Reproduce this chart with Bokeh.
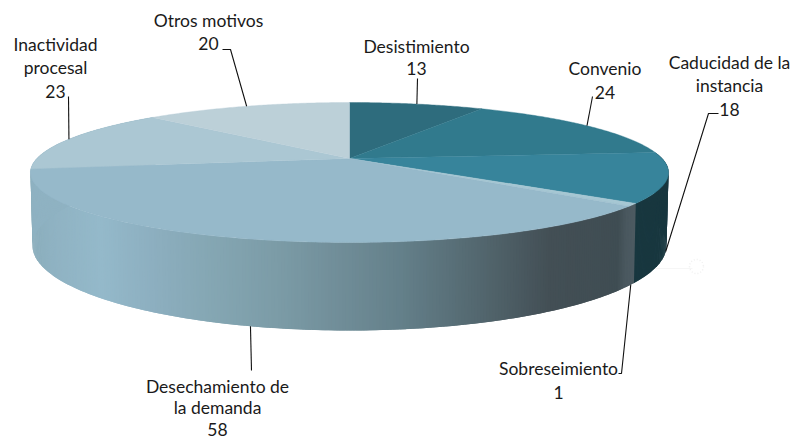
import numpy as np
from bokeh.plotting import figure
from bokeh.embed import file_html
from bokeh.resources import INLINE
from bokeh.core.properties import value

# ---- data ----
categories = ["Desistimiento", "Convenio", "Caducidad de la instancia", "Sobreseimiento",
              "Desechamiento de la demanda", "Inactividad procesal", "Otros motivos"]
values = [13, 24, 18, 1, 58, 23, 20]
label_lines = [["Desistimiento", "13"], ["Convenio", "24"], ["Caducidad de la", "instancia", "18"],
               ["Sobreseimiento", "1"], ["Desechamiento de", "la demanda", "58"],
               ["Inactividad", "procesal", "23"], ["Otros motivos", "20"]]

# ---- style & layout ----
top_colors = ["#2E6C7D", "#317A8D", "#37849B", "#A6C7D3", "#96B9CA", "#ABC7D3", "#BCD0D8"]
side_colors = ["#24525F", "#24525F", "#18373F", None, None, "#8FB2C2", "#8FB2C2"]
grad_x = [30, 50, 100, 150, 200, 280, 340, 400, 470, 550, 618, 626, 634]
grad_c = ["#8AADBB", "#8FB2C2", "#94B9CA", "#8DAFC0", "#86A8B5", "#7B9BA6", "#708D98",
          "#64808A", "#556A72", "#434F55", "#3F4D53", "#4A585F", "#4C5A61"]
label_xy = [(416, [46, 68]), (604.5, [68, 92]), (729, [62, 85, 109]), (558, [368, 392]),
            (217, [386, 407, 429]), (55, [44, 67, 91]), (208, [20, 43])]
# leader: elbow points (from the label end), and whether it lands on top or bottom rim
leaders = [([(417, 78)], "top"), ([(592, 96)], "top"), ([(718, 113), (708, 113)], "bot"),
           ([(618, 373), (621, 373)], "bot"), ([(251, 370)], "bot"),
           ([(68, 96)], "top"), ([(222, 49), (230, 49)], "top")]
CX, K = 349, -0.2
TOP = dict(cy=158.0, a=312.6, b=67.2)
BOT = dict(cy=228.0, a=310.6, b=81.6)
FONT, FS = "Lato", "17.5px"
STEP = 0.5


def rim(deg, g):
    t = np.radians(deg)
    u, v = np.sin(t), -np.cos(t)
    d = 1 + K * v
    return CX + g["a"] * u / d, g["cy"] + g["b"] * v / d


def hex2rgb(h):
    return [int(h[i:i + 2], 16) for i in (1, 3, 5)]


grad_rgb = np.array([hex2rgb(c) for c in grad_c], float)


def grad(x):
    return "#%02X%02X%02X" % tuple(int(round(np.interp(x, grad_x, grad_rgb[:, i]))) for i in range(3))


p = figure(width=792, height=440, x_range=(0, 792), y_range=(440, 0),
           output_backend="svg", toolbar_location=None, min_border=0,
           outline_line_color=None, x_axis_type=None, y_axis_type=None)
p.grid.visible = False

edges = np.cumsum([0] + values) / sum(values) * 360.0

# faint smudge right of the pie
p.line([648, 692], [268, 268], line_color="#F6F6F6", line_width=1)
p.scatter([696], [266], size=14, marker="circle", fill_color=None,
          line_color="#F0F0F0", line_dash="1 2", line_width=1.5)

# side wall: strips painted in angle order, each reaching under the next one
sx, sy, sc = [], [], []
for i in range(len(values)):
    a0, a1 = edges[i], edges[i + 1]
    if a0 < 84 or a0 > 262:
        continue
    n = max(2, int((a1 - a0) / STEP))
    ang = np.linspace(a0, a1, n + 1)
    for s, e in zip(ang[:-1], ang[1:]):
        e2 = e + STEP
        t0, t1 = np.array([s, e2]), np.array([e2, s])
        x0, y0 = rim(t0, TOP)
        x1, y1 = rim(t1, BOT)
        xm, _ = rim((s + e) / 2, TOP)
        col = side_colors[i] or grad(float(xm))
        sx.append(list(x0) + list(x1))
        sy.append(list(y0) + list(y1))
        sc.append(col)
p.patches(sx, sy, fill_color=sc, line_color=None)

# top face
xs, ys = [], []
for i in range(len(values)):
    ang = np.linspace(edges[i], edges[i + 1], max(3, int(edges[i + 1] - edges[i]) * 2))
    x, y = rim(ang, TOP)
    xs.append([CX] + list(x))
    ys.append([TOP["cy"]] + list(y))
p.patches(xs, ys, fill_color=top_colors, line_color=top_colors, line_width=0.4)

# leaders
for i, (pts, where) in enumerate(leaders):
    mid = (edges[i] + edges[i + 1]) / 2
    ex, ey = rim(mid, TOP if where == "top" else BOT)
    lx = [q[0] for q in pts] + [float(ex)]
    ly = [q[1] for q in pts] + [float(ey)]
    p.line(lx, ly, line_color="#111111", line_width=1.1)

# labels
tx, ty, tt = [], [], []
for lines, (x, yy) in zip(label_lines, label_xy):
    for s, y in zip(lines, yy):
        tx.append(x)
        ty.append(y)
        tt.append(s)
p.text(tx, ty, text=tt, text_align="center", text_baseline="middle",
       text_font=value(FONT), text_font_size=FS, text_color="#1A1A1A")

open("out.html", "w").write(file_html(p, INLINE))
